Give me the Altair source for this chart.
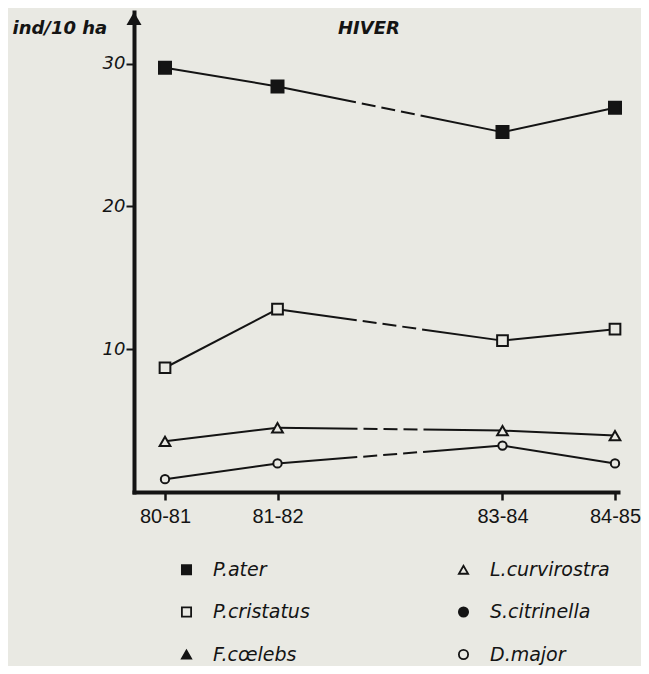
import altair as alt
import pandas as pd

# ---- data (ind/10 ha, winter) ----
seasons = ["80-81", "81-82", "83-84", "84-85"]
# legend fills column by column: left column then right column
legend_order = ["P.ater", "P.cristatus", "F.cœlebs", "L.curvirostra", "S.citrinella", "D.major"]
p_ater = [29.7, 28.4, 25.2, 26.9]
p_cristatus = [8.7, 12.8, 10.6, 11.4]
l_curvirostra = [3.55, 4.5, 4.3, 3.95]
d_major = [0.9, 2.0, 3.25, 2.0]

INK = "#141414"
BG = "#e9e9e3"
FONT = "DejaVu Sans"

shapes = ["square", "square", "triangle-up", "triangle-up", "circle", "circle"]
fills = [INK, BG, INK, BG, INK, BG]

series = {
    "P.ater": p_ater,
    "P.cristatus": p_cristatus,
    "L.curvirostra": l_curvirostra,
    "D.major": d_major,
}

rows = []
for name, vals in series.items():
    for s, v in zip(seasons, vals):
        rows.append({"species": name, "season": s, "year": int(s[:2]), "value": v})
points = pd.DataFrame(rows)

seg_rows = []
for name, vals in series.items():
    for seg, idx in [("a", [0, 1]), ("b", [1, 2]), ("c", [2, 3])]:
        for i in idx:
            seg_rows.append({"species": name, "key": name + seg, "seg": seg,
                             "year": int(seasons[i][:2]), "value": vals[i]})
segs = pd.DataFrame(seg_rows)

tick_years = [int(s[:2]) for s in seasons]

x_enc = alt.X(
    "year:Q",
    scale=alt.Scale(domain=[79.7244, 84.0267], nice=False, zero=False),
    axis=alt.Axis(
        values=tick_years,
        labelExpr="format(datum.value,'d') + '-' + format(datum.value + 1,'d')",
        title=None, grid=False, labelFlush=False,
        labelFont="Liberation Sans", labelFontSize=20, labelColor=INK, labelPadding=6,
        tickSize=8, tickWidth=2.5, tickColor=INK,
        domainColor=INK, domainWidth=4, domainCap="square",
    ),
)
y_enc = alt.Y(
    "value:Q",
    scale=alt.Scale(domain=[0, 33.61], nice=False, zero=False),
    axis=alt.Axis(
        values=[10, 20, 30], grid=False,
        title="ind/10 ha", titleAngle=0, titleX=-122, titleY=16,
        titleAlign="left", titleBaseline="middle",
        titleFont=FONT, titleFontSize=18, titleFontStyle="italic",
        titleFontWeight="bold", titleColor=INK,
        labelFont=FONT, labelFontSize=18, labelFontStyle="italic",
        labelColor=INK, labelPadding=1,
        tickSize=8, tickWidth=2, tickColor=INK,
        domainColor=INK, domainWidth=4, domainCap="square",
    ),
)

legend = alt.Legend(
    title=None, orient="none", legendX=43, legendY=548,
    columns=2, columnPadding=144, rowPadding=22.5, padding=0,
    symbolSize=85, symbolStrokeWidth=1.8,
    labelFont=FONT, labelFontSize=19, labelFontStyle="italic",
    labelColor=INK, labelOffset=17,
)

solid = alt.Chart(segs).transform_filter("datum.seg != 'b'").mark_line(
    color=INK, strokeWidth=2
).encode(x=x_enc, y=y_enc, detail="key:N", order="year:Q")

dashed = alt.Chart(segs).transform_filter("datum.seg == 'b'").mark_line(
    color=INK, strokeWidth=2, strokeDash=[80, 6, 14, 6, 14, 6, 14, 6, 400, 0]
).encode(x=x_enc, y=y_enc, detail="key:N", order="year:Q")

marks = alt.Chart(points).mark_point(
    strokeWidth=2, opacity=1
).encode(
    x=x_enc, y=y_enc,
    shape=alt.Shape("species:N", scale=alt.Scale(domain=legend_order, range=shapes), legend=legend),
    fill=alt.Fill("species:N", scale=alt.Scale(domain=legend_order, range=fills), legend=legend),
    stroke=alt.Stroke("species:N", scale=alt.Scale(domain=legend_order, range=[INK] * len(legend_order)), legend=legend),
    size=alt.value(115, condition=[
        {"test": "datum.species === 'P.ater'", "value": 144},
        {"test": "datum.species === 'D.major'", "value": 70},
    ]),
)

arrow = alt.Chart(pd.DataFrame({"a": [0]})).mark_point(
    shape="M-1,0.87L0,-0.87L1,0.87Z", size=225, filled=True, color=INK, opacity=1
).encode(x=alt.value(0), y=alt.value(6.5))

chart = alt.layer(solid, dashed, marks, arrow).properties(
    width=484, height=480,
    autosize=alt.AutoSizeParams(type="none"),
    padding={"left": 126, "top": 4, "right": 23, "bottom": 174},
    background=BG,
    title=alt.TitleParams(
        "HIVER", anchor="start", frame="group", dx=204, dy=35, offset=0,
        baseline="middle", font=FONT, fontSize=18, fontStyle="italic",
        fontWeight="bold", color=INK,
    ),
).configure_view(stroke=None)

chart.save("out.html", embed_options={"renderer": "svg", "actions": False})
